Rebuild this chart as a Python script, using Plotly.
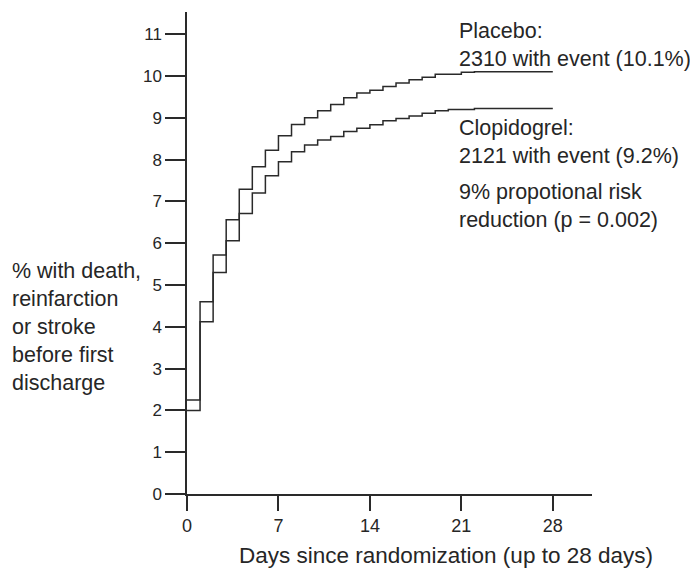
import plotly.graph_objects as go

# ---- data ----
days = list(range(0, 29))
placebo = [2.25, 4.6, 5.72, 6.56, 7.29, 7.83, 8.22, 8.57, 8.84, 9.0,
           9.17, 9.32, 9.48, 9.59, 9.66, 9.75, 9.83, 9.91, 9.97, 10.04,
           10.04, 10.09, 10.1, 10.1, 10.1, 10.1, 10.1, 10.1, 10.1]
clopidogrel = [2.0, 4.12, 5.3, 6.06, 6.71, 7.2, 7.61, 7.95, 8.19, 8.35,
               8.47, 8.55, 8.67, 8.75, 8.83, 8.93, 8.98, 9.04, 9.11, 9.17,
               9.2, 9.2, 9.22, 9.22, 9.22, 9.22, 9.22, 9.22, 9.22]
x_ticks = [0, 7, 14, 21, 28]
y_ticks = list(range(0, 12))

OFF = 8  # page body margin of the browser
W, H = 698 - OFF, 573 - OFF
L, R, T, B = 187 - OFF, 106, 12 - OFF, 79
XMAX, YMAX = 31.0, 11.53
pw, ph = W - L - R, H - T - B


def paper_x(px):
    return (px - OFF - L) / pw


def paper_y(py):
    return (T + ph - (py - OFF)) / ph


LINE = "#2a2a2a"
TXT = "#262626"
FONT = "Liberation Sans, Arial, Helvetica, sans-serif"

fig = go.Figure()
fig.add_trace(go.Scatter(x=days, y=placebo, mode="lines", line_shape="hv",
                         line=dict(color=LINE, width=1.5), name="Placebo",
                         showlegend=False, hoverinfo="skip"))
fig.add_trace(go.Scatter(x=days, y=clopidogrel, mode="lines", line_shape="hv",
                         line=dict(color=LINE, width=1.5), name="Clopidogrel",
                         showlegend=False, hoverinfo="skip"))

fig.update_xaxes(range=[0, XMAX], tickvals=x_ticks, ticks="outside", ticklen=15,
                 tickwidth=1.5, tickcolor=LINE, showline=True, linecolor=LINE,
                 linewidth=1.5, showgrid=False, zeroline=False,
                 tickfont=dict(family=FONT, size=18, color=TXT))
fig.update_yaxes(range=[0, YMAX], tickvals=y_ticks, ticks="outside", ticklen=20,
                 tickwidth=1.5, tickcolor=LINE, showline=True, linecolor=LINE,
                 linewidth=1.5, showgrid=False, zeroline=False,
                 tickfont=dict(family=FONT, size=17, color=TXT))

ann_font = dict(family=FONT, size=21.5, color=TXT)
notes = [
    ("Placebo:<br>2310 with event (10.1%)", 457, 45.5),
    ("Clopidogrel:<br>2121 with event (9.2%)", 457, 142),
    ("9% propotional risk<br>reduction (p = 0.002)", 457, 205.5),
    ("% with death,<br>reinfarction<br>or stroke<br>before first<br>discharge", 10, 327),
]
for text, x0, yc in notes:
    fig.add_annotation(x=paper_x(x0), y=paper_y(yc), xref="paper", yref="paper",
                       text=text, showarrow=False, xanchor="left",
                       yanchor="middle", align="left", font=ann_font)

fig.add_annotation(x=paper_x(446), y=paper_y(555), xref="paper", yref="paper",
                   text="Days since randomization (up to 28 days)",
                   showarrow=False, xanchor="center", yanchor="middle",
                   font=dict(family=FONT, size=22.5, color=TXT))

fig.update_layout(width=W, height=H, autosize=False,
                  margin=dict(l=L, r=R, t=T, b=B),
                  paper_bgcolor="white", plot_bgcolor="white")

fig.write_html("out.html")
